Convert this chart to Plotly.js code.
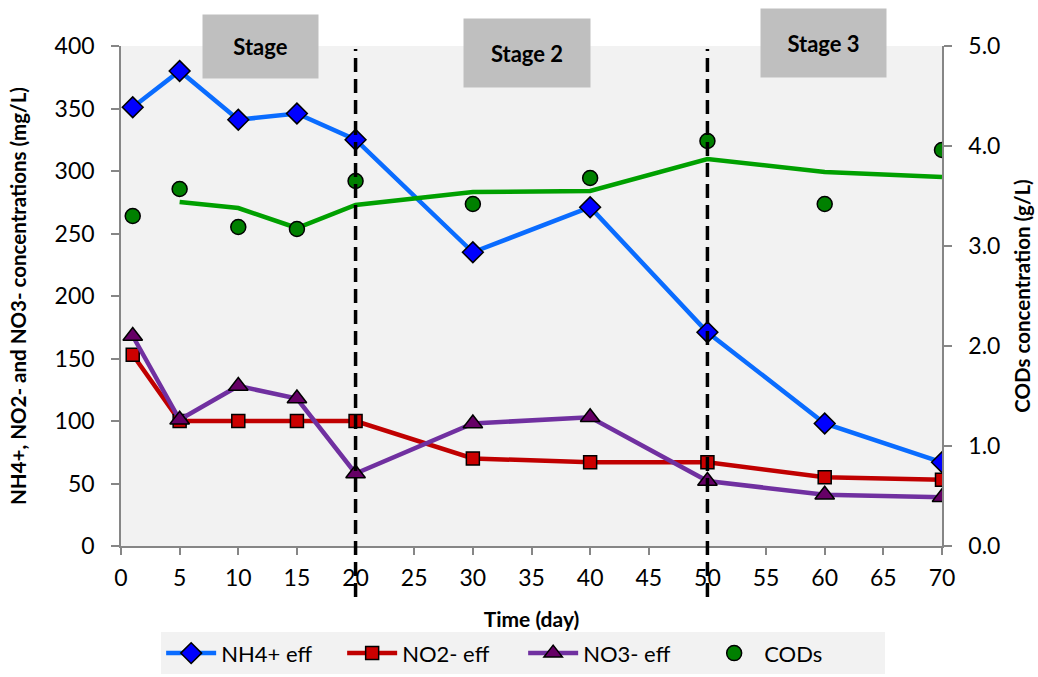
<!DOCTYPE html>
<html>
<head>
<meta charset="utf-8">
<script src="https://cdn.plot.ly/plotly-3.0.1.min.js"></script>
<style>html,body{margin:0;padding:0;background:#fff;}#chart{width:1038px;height:677px;}</style>
</head>
<body>
<div id="chart"></div>
<script>
// Data
const days = [1, 5, 10, 15, 20, 30, 40, 50, 60, 70];
const nh4Eff = [351, 380, 341, 346, 325, 235, 271, 171, 98, 67];
const no2Eff = [153, 100, 100, 100, 100, 70, 67, 67, 55, 53];
const no3Eff = [168, 101, 128, 118, 58, 98, 103, 52, 41, 39];
const cods = [3.30, 3.57, 3.19, 3.17, 3.65, 3.42, 3.68, 4.05, 3.42, 3.96];
const codsTrendDays = [5, 10, 15, 20, 30, 40, 50, 60, 70];
const codsTrend = [3.44, 3.38, 3.18, 3.41, 3.54, 3.55, 3.87, 3.74, 3.69];
const stageLines = [20, 50];
const stageLabels = ["Stage", "Stage 2", "Stage 3"];
const stageLabelDays = [11.9, 34.6, 59.9];

const FONT = "Lato, 'Open Sans', sans-serif";

const traces = [
  {
    x: days, y: nh4Eff, name: "NH4+ eff", type: "scatter", mode: "lines+markers",
    line: {color: "#0a6cff", width: 4.5},
    marker: {symbol: "diamond", size: 16, color: "#0000ff", line: {color: "#000", width: 1.5}}
  },
  {
    x: days, y: no2Eff, name: "NO2- eff", type: "scatter", mode: "lines+markers",
    line: {color: "#c00000", width: 4.5},
    marker: {symbol: "square", size: 13, color: "#cc0000", line: {color: "#000", width: 1.5}}
  },
  {
    x: days, y: no3Eff, name: "NO3- eff", type: "scatter", mode: "lines+markers",
    line: {color: "#7030a0", width: 4.5},
    marker: {symbol: "triangle-up", size: 17, color: "#660066", line: {color: "#000", width: 1.5}}
  },
  {
    x: codsTrendDays, y: codsTrend, name: "CODs trend", type: "scatter", mode: "lines",
    yaxis: "y2", showlegend: false, hoverinfo: "skip",
    line: {color: "#00a000", width: 4.5}
  },
  {
    x: days, y: cods, name: "CODs", type: "scatter", mode: "markers",
    yaxis: "y2",
    marker: {symbol: "circle", size: 15, color: "#008000", line: {color: "#000", width: 1.5}}
  }
];

const shapes = stageLines.map(d => ({
  type: "line", xref: "x", yref: "paper", x0: d, x1: d, y0: -0.102, y1: 0.994,
  line: {color: "#000", width: 3.5, dash: "14px,7px"}, layer: "above"
}));

const boxW = [115, 126, 125];
const boxH = [63, 68, 68];
const boxY = [0.999, 0.986, 1.006];
const annotations = stageLabels.map((t, i) => ({
  text: "<b>" + t + "</b>", xref: "x", yref: "paper", x: stageLabelDays[i], y: boxY[i],
  xanchor: "center", yanchor: "middle", showarrow: false,
  width: boxW[i], height: boxH[i], bgcolor: "#bfbfbf", borderpad: 0,
  font: {family: FONT, size: 22, color: "#000"}, align: "center", valign: "middle"
}));

const layout = {
  width: 1038, height: 677,
  margin: {l: 121, r: 96, t: 46, b: 131},
  paper_bgcolor: "#ffffff", plot_bgcolor: "#f2f2f2",
  font: {family: FONT, size: 23, color: "#000"},
  showlegend: true,
  legend: {
    orientation: "h", xref: "container", yref: "container",
    x: 0.504, xanchor: "center", y: 0.066, yanchor: "top",
    bgcolor: "#f2f2f2", font: {family: FONT, size: 22, color: "#000"},
    entrywidth: 116, itemwidth: 50, traceorder: "normal"
  },
  xaxis: {
    range: [0, 70], dtick: 5, tick0: 0, showgrid: false, zeroline: false,
    showline: true, linecolor: "#868686", linewidth: 1.5,
    ticks: "outside", ticklen: 7, tickcolor: "#868686", tickwidth: 1.5,
    tickfont: {family: FONT, size: 23, color: "#000"}, automargin: false,
    ticklabelstandoff: 4,
    title: {text: "<b>Time (day)</b>", font: {family: FONT, size: 21, color: "#000"}, standoff: 22}
  },
  yaxis: {
    range: [0, 400], dtick: 50, showgrid: false, zeroline: false,
    showline: true, linecolor: "#868686", linewidth: 1.5,
    ticks: "outside", ticklen: 8, tickcolor: "#868686", tickwidth: 1.5,
    tickfont: {family: FONT, size: 23, color: "#000"}, automargin: false,
    ticklabelstandoff: 12,
    title: {text: "<b>NH4+, NO2- and NO3- concentrations (mg/L)</b>", font: {family: FONT, size: 20.5, color: "#000"}, standoff: 22}
  },
  yaxis2: {
    range: [0, 5], dtick: 1, tickformat: ".1f", overlaying: "y", side: "right",
    showgrid: false, zeroline: false,
    showline: true, linecolor: "#868686", linewidth: 1.5,
    ticks: "outside", ticklen: 8, tickcolor: "#868686", tickwidth: 1.5,
    tickfont: {family: FONT, size: 23, color: "#000"}, automargin: false,
    ticklabelstandoff: 12,
    title: {text: "<b>CODs concentration (g/L)</b>", font: {family: FONT, size: 20.5, color: "#000"}, standoff: 16}
  },
  shapes: shapes,
  annotations: annotations
};

Plotly.newPlot("chart", traces, layout, {displayModeBar: false, responsive: false});
</script>
</body>
</html>
